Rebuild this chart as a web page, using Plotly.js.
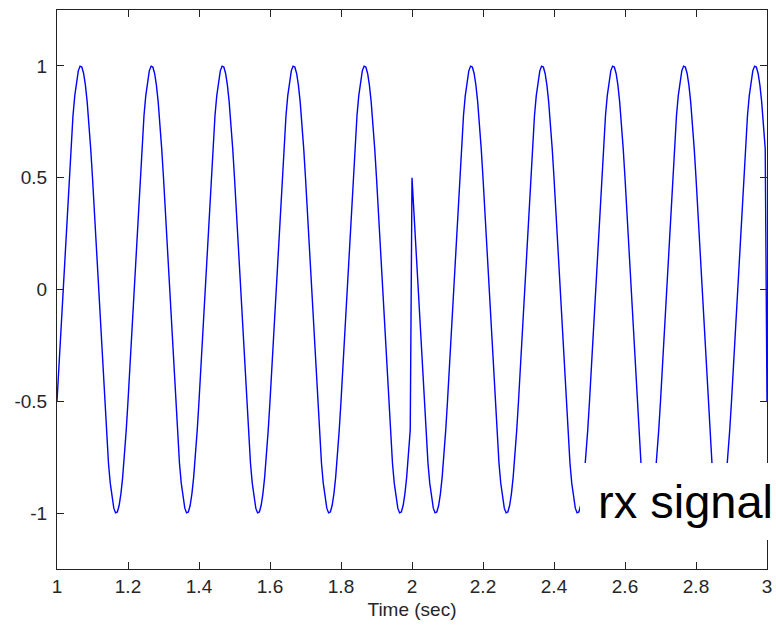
<!DOCTYPE html>
<html>
<head>
<meta charset="utf-8">
<script src="https://cdn.plot.ly/plotly-3.0.1.min.js"></script>
<style>html,body{margin:0;padding:0;background:#fff;}#chart{width:776px;height:628px;}</style>
</head>
<body>
<div id="chart"></div>
<script>
const tStart = 1.0;
const tStep = 0.005;
// Samples from t = 1.000 to t = 3.000; phase flips at t = 2 and t = 3
const rx = [
-0.5,-0.358,-0.208,-0.052,0.105,0.259,0.407,0.545,0.669,0.777,0.866,0.934,0.978,0.999,0.995,0.966,0.914,0.839,0.743,0.629,0.5,0.358,0.208,0.052,-0.105,-0.259,-0.407,-0.545,-0.669,-0.777,-0.866,-0.934,-0.978,-0.999,-0.995,-0.966,-0.914,-0.839,-0.743,-0.629,
-0.5,-0.358,-0.208,-0.052,0.105,0.259,0.407,0.545,0.669,0.777,0.866,0.934,0.978,0.999,0.995,0.966,0.914,0.839,0.743,0.629,0.5,0.358,0.208,0.052,-0.105,-0.259,-0.407,-0.545,-0.669,-0.777,-0.866,-0.934,-0.978,-0.999,-0.995,-0.966,-0.914,-0.839,-0.743,-0.629,
-0.5,-0.358,-0.208,-0.052,0.105,0.259,0.407,0.545,0.669,0.777,0.866,0.934,0.978,0.999,0.995,0.966,0.914,0.839,0.743,0.629,0.5,0.358,0.208,0.052,-0.105,-0.259,-0.407,-0.545,-0.669,-0.777,-0.866,-0.934,-0.978,-0.999,-0.995,-0.966,-0.914,-0.839,-0.743,-0.629,
-0.5,-0.358,-0.208,-0.052,0.105,0.259,0.407,0.545,0.669,0.777,0.866,0.934,0.978,0.999,0.995,0.966,0.914,0.839,0.743,0.629,0.5,0.358,0.208,0.052,-0.105,-0.259,-0.407,-0.545,-0.669,-0.777,-0.866,-0.934,-0.978,-0.999,-0.995,-0.966,-0.914,-0.839,-0.743,-0.629,
-0.5,-0.358,-0.208,-0.052,0.105,0.259,0.407,0.545,0.669,0.777,0.866,0.934,0.978,0.999,0.995,0.966,0.914,0.839,0.743,0.629,0.5,0.358,0.208,0.052,-0.105,-0.259,-0.407,-0.545,-0.669,-0.777,-0.866,-0.934,-0.978,-0.999,-0.995,-0.966,-0.914,-0.839,-0.743,-0.629,
0.5,0.358,0.208,0.052,-0.105,-0.259,-0.407,-0.545,-0.669,-0.777,-0.866,-0.934,-0.978,-0.999,-0.995,-0.966,-0.914,-0.839,-0.743,-0.629,-0.5,-0.358,-0.208,-0.052,0.105,0.259,0.407,0.545,0.669,0.777,0.866,0.934,0.978,0.999,0.995,0.966,0.914,0.839,0.743,0.629,
0.5,0.358,0.208,0.052,-0.105,-0.259,-0.407,-0.545,-0.669,-0.777,-0.866,-0.934,-0.978,-0.999,-0.995,-0.966,-0.914,-0.839,-0.743,-0.629,-0.5,-0.358,-0.208,-0.052,0.105,0.259,0.407,0.545,0.669,0.777,0.866,0.934,0.978,0.999,0.995,0.966,0.914,0.839,0.743,0.629,
0.5,0.358,0.208,0.052,-0.105,-0.259,-0.407,-0.545,-0.669,-0.777,-0.866,-0.934,-0.978,-0.999,-0.995,-0.966,-0.914,-0.839,-0.743,-0.629,-0.5,-0.358,-0.208,-0.052,0.105,0.259,0.407,0.545,0.669,0.777,0.866,0.934,0.978,0.999,0.995,0.966,0.914,0.839,0.743,0.629,
0.5,0.358,0.208,0.052,-0.105,-0.259,-0.407,-0.545,-0.669,-0.777,-0.866,-0.934,-0.978,-0.999,-0.995,-0.966,-0.914,-0.839,-0.743,-0.629,-0.5,-0.358,-0.208,-0.052,0.105,0.259,0.407,0.545,0.669,0.777,0.866,0.934,0.978,0.999,0.995,0.966,0.914,0.839,0.743,0.629,
0.5,0.358,0.208,0.052,-0.105,-0.259,-0.407,-0.545,-0.669,-0.777,-0.866,-0.934,-0.978,-0.999,-0.995,-0.966,-0.914,-0.839,-0.743,-0.629,-0.5,-0.358,-0.208,-0.052,0.105,0.259,0.407,0.545,0.669,0.777,0.866,0.934,0.978,0.999,0.995,0.966,0.914,0.839,0.743,0.629,
-0.5
];
const xTicks = [1, 1.2, 1.4, 1.6, 1.8, 2, 2.2, 2.4, 2.6, 2.8, 3];
const xTickText = ['1', '1.2', '1.4', '1.6', '1.8', '2', '2.2', '2.4', '2.6', '2.8', '3'];
const yTicks = [-1, -0.5, 0, 0.5, 1];
const yTickText = ['-1', '-0.5', '0', '0.5', '1'];
const xLabel = 'Time (sec)';
const noteText = 'rx signal';

const tickFont = {family: 'Liberation Sans, Arial, sans-serif', size: 19, color: '#262626'};

const trace = {
  type: 'scatter',
  mode: 'lines',
  x0: tStart,
  dx: tStep,
  y: rx,
  line: {color: '#0000ff', width: 1.4},
  hoverinfo: 'skip'
};

const axisCommon = {
  showgrid: false,
  zeroline: false,
  showline: true,
  linecolor: '#222',
  linewidth: 1,
  mirror: 'ticks',
  ticks: 'inside',
  ticklen: 7,
  tickwidth: 1,
  tickcolor: '#222',
  tickfont: tickFont,
  tickmode: 'array'
};

const layout = {
  width: 776,
  height: 628,
  margin: {l: 57, r: 9, t: 10, b: 59},
  paper_bgcolor: '#fff',
  plot_bgcolor: '#fff',
  showlegend: false,
  xaxis: Object.assign({}, axisCommon, {
    range: [1, 3],
    tickvals: xTicks,
    ticktext: xTickText,
    ticklabelstandoff: 0,
    title: {text: xLabel, font: tickFont, standoff: 6}
  }),
  yaxis: Object.assign({}, axisCommon, {
    range: [-1.25, 1.25],
    tickvals: yTicks,
    ticktext: yTickText,
    ticklabelstandoff: 5
  }),
  annotations: [{
    xref: 'paper', yref: 'paper',
    x: 0.7366, y: 0.1896,
    xanchor: 'left', yanchor: 'top',
    width: 193, height: 77,
    align: 'right', valign: 'middle',
    text: noteText,
    showarrow: false,
    bgcolor: '#ffffff',
    borderpad: 0,
    borderwidth: 0,
    font: {family: 'Liberation Sans, Arial, sans-serif', size: 47, color: '#000'}
  }]
};

Plotly.newPlot('chart', [trace], layout, {staticPlot: true, displayModeBar: false});
</script>
</body>
</html>
